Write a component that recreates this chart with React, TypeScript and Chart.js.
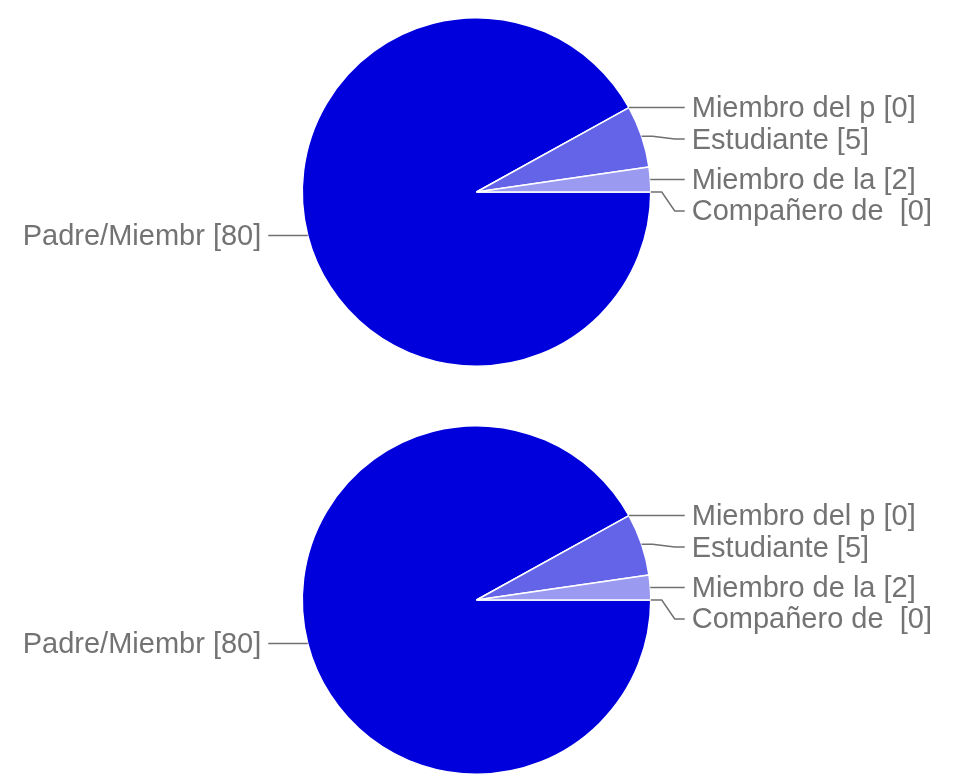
import React, { useEffect, useRef } from "react";
import { Chart, registerables } from "chart.js";

Chart.register(...registerables);

const categories = ["Padre/Miembr", "Miembro del p", "Estudiante", "Miembro de la", "Compañero de "];
const values = [80, 0, 5, 2, 0];
const colors = ["#0000dc", "#0000dc", "#6464e8", "#9a9af0", "#0000dc"];

const FONT = '29px "Liberation Sans", Arial, sans-serif';
const TEXT_COLOR = "#737373";
const LINE_COLOR = "#707070";

const labelPlugin = {
  id: "pieLabels",
  afterDraw(chart: any) {
    const meta = chart.getDatasetMeta(0);
    const ctx = chart.ctx;
    const arcs = meta.data;
    if (!arcs.length) return;
    const cx = arcs[0].x;
    const cy = arcs[0].y;
    const r = arcs[0].outerRadius;
    const items: any[] = [];
    arcs.forEach((arc: any, i: number) => {
      const mid = (arc.startAngle + arc.endAngle) / 2;
      const ex = cx + Math.cos(mid) * r;
      const ey = cy + Math.sin(mid) * r;
      items.push({
        text: `${categories[i]} [${values[i]}]`,
        ex,
        ey,
        right: Math.cos(mid) >= 0,
        y: ey,
      });
    });
    const spacing = 31.5;
    for (const side of [true, false]) {
      const list = items.filter((it) => it.right === side).sort((a, b) => a.ey - b.ey);
      for (let k = 1; k < list.length; k++) {
        if (list[k].y < list[k - 1].y + spacing) list[k].y = list[k - 1].y + spacing;
      }
    }
    ctx.save();
    ctx.font = FONT;
    ctx.textBaseline = "middle";
    ctx.fillStyle = TEXT_COLOR;
    ctx.strokeStyle = LINE_COLOR;
    ctx.lineWidth = 1.5;
    for (const it of items) {
      const dir = it.right ? 1 : -1;
      const tx = cx + dir * (r + 41);
      ctx.beginPath();
      ctx.moveTo(it.ex, it.ey);
      ctx.lineTo(it.ex + dir * 11, it.ey);
      ctx.lineTo(tx - dir * 17, it.y);
      ctx.lineTo(tx - dir * 7, it.y);
      ctx.stroke();
      ctx.textAlign = it.right ? "left" : "right";
      ctx.fillText(it.text, tx, it.y + 1.5);
    }
    ctx.restore();
  },
};

function PieChart({ top }: { top: number }) {
  const ref = useRef<HTMLCanvasElement | null>(null);
  useEffect(() => {
    if (!ref.current) return;
    const chart = new Chart(ref.current, {
      type: "pie",
      data: {
        labels: categories,
        datasets: [
          {
            data: values,
            backgroundColor: colors,
            borderColor: "#ffffff",
            borderWidth: 1.5,
          },
        ],
      },
      options: {
        animation: false,
        responsive: false,
        rotation: 90,
        layout: { padding: { top: 17, bottom: 17, left: 0, right: 0 } },
        plugins: { legend: { display: false }, tooltip: { enabled: false } },
      },
      plugins: [labelPlugin],
    });
    return () => chart.destroy();
  }, []);
  return (
    <canvas
      ref={ref}
      width={953}
      height={384}
      style={{ position: "absolute", left: 0, top, width: 953, height: 384 }}
    />
  );
}

export default function App() {
  return (
    <div style={{ position: "fixed", left: 0, top: 0, width: 953, height: 783, background: "#fff" }}>
      <PieChart top={0} />
      <PieChart top={408} />
    </div>
  );
}
